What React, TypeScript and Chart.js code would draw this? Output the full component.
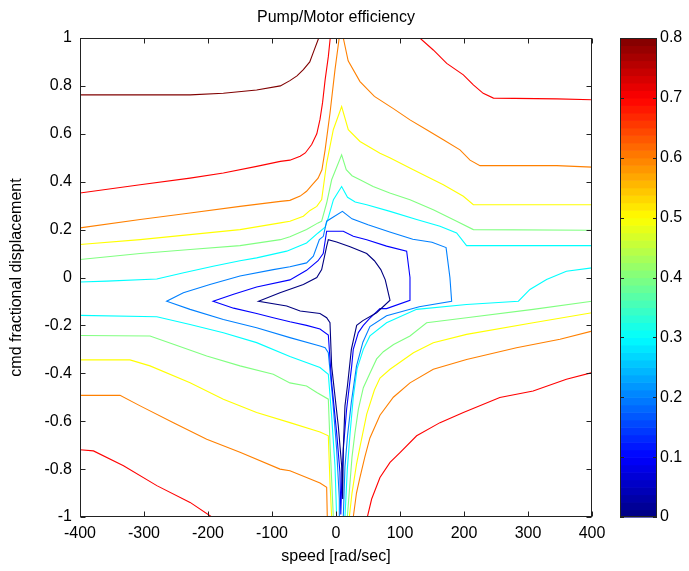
import { useEffect, useRef } from "react";
import { Chart, registerables } from "chart.js";

Chart.register(...registerables);

// ---------- axis / tick data ----------
const X_TICKS = [-400, -300, -200, -100, 0, 100, 200, 300, 400];
const Y_TICKS = [-1, -0.8, -0.6, -0.4, -0.2, 0, 0.2, 0.4, 0.6, 0.8, 1];
const CB_TICKS = [0, 0.1, 0.2, 0.3, 0.4, 0.5, 0.6, 0.7, 0.8];
const CB_MIN = 0;
const CB_MAX = 0.8;
const TITLE = "Pump/Motor efficiency";
const X_LABEL = "speed [rad/sec]";
const Y_LABEL = "cmd fractional displacement";

type P = [number, number];

// ---------- contour level 0.0 ----------
const navyLoop: P[] = [
  [10.4, -0.925], [8.8, -0.786], [3.6, -0.62], [-6.8, -0.37], [-9.4, -0.189],
  [-14.6, -0.168], [-25, -0.15], [-56, -0.14], [-77, -0.119], [-121, -0.099],
  [-87.5, -0.064], [-51, -0.029], [-30, 0.0], [-22.4, 0.033], [-14.6, 0.13],
  [-12, 0.158], [1, 0.148], [22, 0.128], [48, 0.1], [60, 0.07], [70, 0.033],
  [77, -0.01], [84.4, -0.095], [63.5, -0.147], [42, -0.18], [32.3, -0.2],
  [24, -0.3], [18, -0.45], [14, -0.536], [11.4, -0.717], [10.4, -0.925],
];

// ---------- contour level 0.1 ----------
const blueLoop: P[] = [
  [7.5, -0.99], [6.2, -0.814], [1, -0.647], [-6.8, -0.439], [-12, -0.24],
  [-25, -0.215], [-46, -0.2], [-72, -0.185], [-98, -0.168], [-124, -0.15],
  [-160, -0.128], [-192, -0.099], [-160, -0.07], [-124, -0.04], [-72, -0.01],
  [-46, 0.03], [-28, 0.07], [-20, 0.1], [-14.6, 0.193], [11.4, 0.193],
  [27, 0.172], [48, 0.158], [79, 0.131], [110.4, 0.11], [115.6, 0.0],
  [115.6, -0.095], [79, -0.13], [68.7, -0.13], [53, -0.17], [42.7, -0.2],
  [34.9, -0.23], [27, -0.3], [24.5, -0.37], [16.6, -0.55], [11.4, -0.717],
  [8.8, -0.87], [7.5, -0.99],
];

// ---------- contour level 0.2 ----------
const lightBlueLine: P[] = [
  [5.2, -1.0], [5.2, -0.925], [1, -0.717], [-5.2, -0.508], [-12, -0.314],
  [-17, -0.293], [-25, -0.286], [-72, -0.251], [-124, -0.21], [-176, -0.175],
  [-228, -0.133], [-264.6, -0.099], [-238.5, -0.064], [-197, -0.029],
  [-150, 0.006], [-98, 0.033], [-72, 0.045], [-46, 0.061], [-35.4, 0.089],
  [-26, 0.158], [-19.8, 0.172], [-14.6, 0.235], [10, 0.276], [25, 0.245],
  [50, 0.22], [84, 0.19], [120, 0.16], [150, 0.147], [172, 0.125],
  [178, 0.0], [180.7, -0.099], [130, -0.122], [79, -0.16], [53, -0.205],
  [42, -0.27], [32, -0.37], [24, -0.52], [18, -0.66], [14, -0.79], [11.4, -1.0],
];

// ---------- contour level 0.3 ----------
const cyanTop: P[] = [
  [-400, -0.019], [-358, -0.015], [-280, -0.006], [-238, 0.02], [-192, 0.047],
  [-150, 0.07], [-124, 0.082], [-77, 0.11], [-46, 0.144], [-28, 0.186],
  [-17, 0.21], [-12, 0.25], [-4, 0.325], [8.8, 0.38], [18, 0.335],
  [30, 0.315], [48, 0.304], [84.4, 0.276], [126, 0.242], [162.5, 0.214],
  [188.5, 0.186], [204, 0.133], [400, 0.133],
];
const cyanBottomLeft: P[] = [
  [-400, -0.158], [-280, -0.164], [-228, -0.196], [-176, -0.231],
  [-124, -0.272], [-72, -0.33], [-25, -0.376], [-12, -0.404],
  [-6.8, -0.578], [-1.6, -0.786], [1, -1.0],
];
const cyanRight: P[] = [
  [14, -1.0], [17.7, -0.8], [22, -0.65], [27, -0.5], [33, -0.38],
  [42.7, -0.3], [53, -0.244], [79, -0.189], [126, -0.133], [204, -0.1125],
  [285, -0.099], [303, -0.05], [329, -0.008], [360, 0.026], [400, 0.04],
];

// ---------- contour level 0.4 ----------
const greenTop: P[] = [
  [-400, 0.075], [-306, 0.1], [-228, 0.117], [-150, 0.133], [-87, 0.158],
  [-72, 0.17], [-46, 0.2], [-28, 0.228], [-22.4, 0.235], [-14.6, 0.311],
  [-6.8, 0.408], [8.8, 0.512], [16, 0.45], [25, 0.425], [37.5, 0.408],
  [58, 0.38], [84, 0.353], [115.6, 0.325], [152, 0.283], [188.5, 0.235],
  [214.6, 0.2], [400, 0.197],
];
const greenBottomLeft: P[] = [
  [-400, -0.242], [-290.6, -0.244], [-254, -0.279], [-202, -0.328],
  [-150, -0.369], [-98, -0.404], [-72, -0.44], [-46, -0.453], [-30, -0.48],
  [-12, -0.508], [-9.4, -0.689], [-4.2, -1.0],
];
const greenBottomRight: P[] = [
  [400, -0.099], [308, -0.133], [204, -0.168], [141.6, -0.189],
  [115.6, -0.244], [90, -0.28], [74, -0.31], [63.5, -0.34], [53, -0.4],
  [42.7, -0.46], [35, -0.55], [29.7, -0.647], [25, -0.75], [21.9, -0.856],
  [17.7, -1.0],
];

// ---------- contour level 0.5 ----------
const yellowTop: P[] = [
  [-400, 0.1375], [-306, 0.158], [-228, 0.179], [-150, 0.2], [-87, 0.228],
  [-72, 0.235], [-51, 0.256], [-40.6, 0.28], [-30, 0.297], [-22.4, 0.325],
  [-14.6, 0.478], [-4.2, 0.617], [8.8, 0.714], [19.2, 0.617], [37.5, 0.568],
  [68.7, 0.519], [84, 0.5], [120.8, 0.45], [167.7, 0.3875], [199, 0.339],
  [214.6, 0.304], [400, 0.304],
];
const yellowBottomLeft: P[] = [
  [-400, -0.344], [-322, -0.344], [-290.6, -0.369], [-228, -0.439],
  [-176, -0.508], [-124, -0.564], [-72, -0.606], [-25, -0.645],
  [-12, -0.661], [-9.4, -0.856], [-6.8, -1.0],
];
const yellowBottomRight: P[] = [
  [400, -0.147], [308, -0.189], [204, -0.2375], [152, -0.272], [121, -0.314],
  [84.4, -0.383], [68.7, -0.42], [60, -0.47], [48, -0.57], [38, -0.7],
  [32, -0.78], [25, -0.9], [20.8, -1.0],
];

// ---------- contour level 0.6 ----------
const orangeTopLeft: P[] = [
  [-400, 0.207], [-306, 0.242], [-228, 0.269], [-150, 0.297], [-87, 0.318],
  [-72, 0.322], [-56, 0.34], [-46, 0.36], [-38, 0.385], [-28, 0.415],
  [-22, 0.45], [-17, 0.533], [-9.4, 0.686], [-1.6, 0.867], [5, 1.0],
];
const orangeTopRight: P[] = [
  [11.4, 1.0], [19, 0.905], [37.5, 0.818], [60, 0.756], [89.6, 0.705],
  [115.6, 0.658], [141.6, 0.617], [167.7, 0.575], [193.7, 0.533],
  [209.4, 0.49], [225, 0.467], [345, 0.467], [400, 0.461],
];
const orangeBottomLeft: P[] = [
  [-400, -0.492], [-337.5, -0.492], [-306, -0.536], [-254, -0.606],
  [-202, -0.675], [-150, -0.73], [-87.5, -0.8], [-72, -0.807],
  [-46, -0.835], [-25, -0.858], [-14.6, -0.876], [-13.6, -1.0],
];
const orangeBottomRight: P[] = [
  [400, -0.224], [350, -0.258], [282, -0.293], [204, -0.342], [152, -0.383],
  [115.6, -0.44], [89.6, -0.5], [68.7, -0.575], [53, -0.67], [45, -0.75],
  [37, -0.84], [32, -0.9], [27, -1.0],
];

// ---------- contour level 0.7 ----------
const redTopLeft: P[] = [
  [-400, 0.353], [-306, 0.3875], [-228, 0.415], [-176, 0.436],
  [-124, 0.464], [-87, 0.485], [-72, 0.49], [-56, 0.506], [-48, 0.52],
  [-38, 0.555], [-30, 0.6], [-25, 0.66], [-21, 0.73], [-17, 0.825],
  [-12, 0.922], [-9, 1.0],
];
const redTopRight: P[] = [
  [131, 1.0], [152, 0.95], [173, 0.894], [199, 0.846], [214.6, 0.804],
  [230, 0.769], [246, 0.749], [345, 0.746], [400, 0.742],
];
const redBottomLeft: P[] = [
  [-400, -0.7195], [-379, -0.724], [-332, -0.786], [-280, -0.869],
  [-228, -0.939], [-194, -1.0],
];
const redBottomRight: P[] = [
  [400, -0.397], [360, -0.425], [308, -0.474], [256, -0.501], [199, -0.564],
  [162.5, -0.606], [126, -0.661], [100, -0.731], [84.4, -0.772],
  [68.7, -0.835], [55.7, -0.925], [49, -1.0],
];

// ---------- contour level 0.8 ----------
const darkRedTop: P[] = [
  [-400, 0.7625], [-228, 0.7625], [-176, 0.769], [-124, 0.783], [-87, 0.8],
  [-72, 0.822], [-61, 0.842], [-51, 0.868], [-41, 0.9], [-35, 0.943],
  [-27, 1.0],
];

const CONTOURS: { level: number; segments: P[][] }[] = [
  { level: 0.0, segments: [navyLoop] },
  { level: 0.1, segments: [blueLoop] },
  { level: 0.2, segments: [lightBlueLine] },
  { level: 0.3, segments: [cyanTop, cyanBottomLeft, cyanRight] },
  { level: 0.4, segments: [greenTop, greenBottomLeft, greenBottomRight] },
  { level: 0.5, segments: [yellowTop, yellowBottomLeft, yellowBottomRight] },
  { level: 0.6, segments: [orangeTopLeft, orangeTopRight, orangeBottomLeft, orangeBottomRight] },
  { level: 0.7, segments: [redTopLeft, redTopRight, redBottomLeft, redBottomRight] },
  { level: 0.8, segments: [darkRedTop] },
];

const FONT_FAMILY = "'Liberation Sans Narrow', 'Liberation Sans', Arial, sans-serif";
const FONT_SIZE = 16;

function jet(t: number): string {
  const c = (v: number) => Math.max(0, Math.min(1, v));
  const r = c(Math.min(4 * t - 1.5, -4 * t + 4.5));
  const g = c(Math.min(4 * t - 0.5, -4 * t + 3.5));
  const b = c(Math.min(4 * t + 0.5, -4 * t + 2.5));
  return `rgb(${Math.round(r * 255)},${Math.round(g * 255)},${Math.round(b * 255)})`;
}

const fmt = (v: number) => String(Math.round(v * 10) / 10);

const decorPlugin = {
  id: "decor",
  afterDraw(chart: any) {
    const { ctx, chartArea: a, scales } = chart;
    const L = Math.round(a.left) + 0.5;
    const R = Math.round(a.right) - 0.5;
    const T = Math.round(a.top) + 0.5;
    const B = Math.round(a.bottom) - 0.5;
    const TL = 5;
    ctx.save();
    ctx.strokeStyle = "#222";
    ctx.lineWidth = 1;
    ctx.beginPath();
    for (const v of X_TICKS) {
      const x = Math.round(scales.x.getPixelForValue(v)) + 0.5;
      ctx.moveTo(x, B);
      ctx.lineTo(x, B - TL);
      ctx.moveTo(x, T);
      ctx.lineTo(x, T + TL);
    }
    for (const v of Y_TICKS) {
      const y = Math.round(scales.y.getPixelForValue(v)) + 0.5;
      ctx.moveTo(L, y);
      ctx.lineTo(L + TL, y);
      ctx.moveTo(R, y);
      ctx.lineTo(R - TL, y);
    }
    ctx.stroke();
    ctx.strokeRect(L, T, R - L, B - T);

    // colorbar
    const cbL = 620;
    const cbR = 657;
    const cbT = a.top;
    const cbB = a.bottom;
    const n = 64;
    const yOf = (v: number) => cbB - ((v - CB_MIN) / (CB_MAX - CB_MIN)) * (cbB - cbT);
    for (let i = 0; i < n; i++) {
      const v0 = CB_MIN + ((CB_MAX - CB_MIN) * i) / n;
      const v1 = CB_MIN + ((CB_MAX - CB_MIN) * (i + 1)) / n;
      ctx.fillStyle = jet((i + 0.5) / n);
      const y0 = yOf(v0);
      const y1 = yOf(v1);
      ctx.fillRect(cbL, y1, cbR - cbL, y0 - y1 + 0.6);
    }
    ctx.strokeStyle = "#222";
    ctx.beginPath();
    for (const v of CB_TICKS) {
      const y = Math.round(yOf(v)) + 0.5;
      ctx.moveTo(cbL, y);
      ctx.lineTo(cbL + 4, y);
      ctx.moveTo(cbR, y);
      ctx.lineTo(cbR - 4, y);
    }
    ctx.stroke();
    ctx.strokeRect(cbL + 0.5, Math.round(cbT) + 0.5, cbR - cbL - 1, Math.round(cbB - cbT) - 1);
    ctx.fillStyle = "#000";
    ctx.font = `${FONT_SIZE}px ${FONT_FAMILY}`;
    ctx.textAlign = "left";
    ctx.textBaseline = "middle";
    for (const v of CB_TICKS) {
      ctx.fillText(fmt(v), cbR + 3, yOf(v));
    }

    // title
    ctx.textAlign = "center";
    ctx.fillText(TITLE, (a.left + a.right) / 2, 18);
    ctx.restore();
  },
};

export default function App() {
  const ref = useRef<HTMLCanvasElement | null>(null);
  useEffect(() => {
    document.body.style.margin = "0";
    const canvas = ref.current;
    if (!canvas) return;
    const datasets: any[] = [];
    for (const c of CONTOURS) {
      const color = jet((c.level - CB_MIN) / (CB_MAX - CB_MIN));
      for (const seg of c.segments) {
        datasets.push({
          data: seg.map(([x, y]) => ({ x, y })),
          showLine: true,
          borderColor: color,
          backgroundColor: color,
          borderWidth: 1.1,
          pointRadius: 0,
          tension: 0,
          fill: false,
        });
      }
    }
    const tickFont = { family: FONT_FAMILY, size: FONT_SIZE };
    const chart = new Chart(canvas, {
      type: "scatter",
      data: { datasets },
      options: {
        responsive: false,
        animation: false,
        events: [],
        layout: { padding: { left: 0, top: 38, right: 97, bottom: 0 } },
        plugins: { legend: { display: false }, tooltip: { enabled: false }, title: { display: false } },
        scales: {
          x: {
            type: "linear",
            min: -400,
            max: 400,
            grid: { display: false, drawTicks: false },
            border: { display: false },
            afterBuildTicks: (s: any) => {
              s.ticks = X_TICKS.map((v) => ({ value: v }));
            },
            afterFit: (s: any) => {
              s.height = 54;
            },
            ticks: { font: tickFont, color: "#000", padding: 7, maxRotation: 0, autoSkip: false, callback: (v: any) => fmt(Number(v)) },
            title: { display: true, text: X_LABEL, font: tickFont, color: "#000", padding: { top: 0, bottom: 5 } },
          },
          y: {
            type: "linear",
            min: -1,
            max: 1,
            grid: { display: false, drawTicks: false },
            border: { display: false },
            afterBuildTicks: (s: any) => {
              s.ticks = Y_TICKS.map((v) => ({ value: v }));
            },
            afterFit: (s: any) => {
              s.width = 80;
            },
            ticks: { font: tickFont, color: "#000", padding: 8, autoSkip: false, callback: (v: any) => fmt(Number(v)) },
            title: { display: true, text: Y_LABEL, font: tickFont, color: "#000", padding: { top: 7, bottom: 0 } },
          },
        },
      },
      plugins: [decorPlugin],
    } as any);
    return () => chart.destroy();
  }, []);
  return <canvas ref={ref} width={689} height={571} style={{ display: "block" }} />;
}
